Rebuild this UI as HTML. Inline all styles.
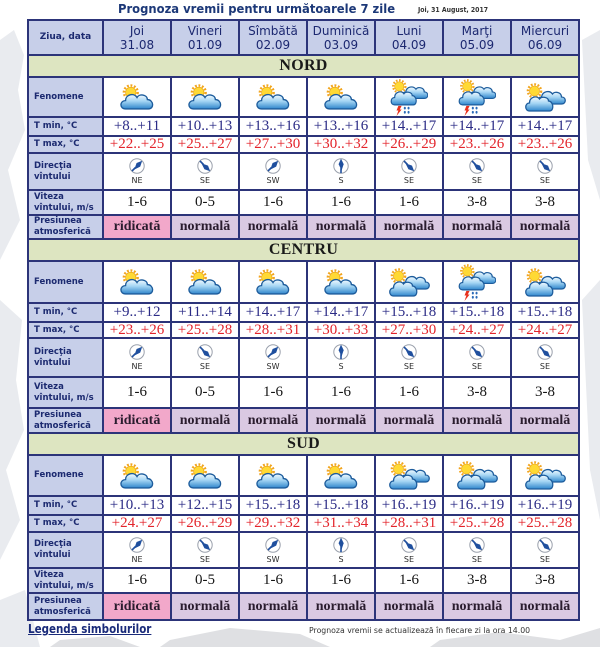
<!DOCTYPE html>
<html><head><meta charset="utf-8">
<style>
html,body{margin:0;padding:0}
body{width:600px;height:647px;position:relative;background:#fff;overflow:hidden;font-family:"DejaVu Sans","Liberation Sans",sans-serif}
.bg{position:absolute;left:0;top:0}
.title{position:absolute;left:118px;top:1px;font-weight:bold;font-size:12.5px;color:#1c3878;white-space:nowrap;transform:scaleX(0.925);transform-origin:0 0;letter-spacing:0}
.date{position:absolute;left:418px;top:6px;font-weight:bold;font-size:7px;color:#333;white-space:nowrap;transform:scaleX(0.88);transform-origin:0 0}
.tbl{position:absolute;left:27px;top:19px;width:553px;height:602px;background:#2c3479}
.r{position:absolute;left:29px;width:549px;display:flex;gap:2px}
.r>div{flex:none;width:66px;height:100%;background:#fff;display:flex;align-items:center;justify-content:center;white-space:nowrap}
.r>div:first-child{width:73px;background:#c7cfe9;flex-direction:column;justify-content:center;align-items:flex-start;padding-left:5px;box-sizing:border-box;font-weight:bold;font-size:8.5px;color:#1c2a70;line-height:11px;font-family:"DejaVu Sans",sans-serif;white-space:nowrap}
.r>div:first-child span{display:block}
.hd>div{background:#c7cfe9;flex-direction:column;font-size:12px;color:#1c2870;line-height:14px}
.hd>div.zd{justify-content:center;align-items:center;padding-left:0;font-size:9px;font-weight:bold}
.band{position:absolute;left:29px;width:549px;background:#dde5c1;font:bold 16px "Liberation Serif",serif;color:#1a1a1a;display:flex;align-items:center;justify-content:center;letter-spacing:0.3px}
.tmin>div{font:15px "Liberation Serif",serif;color:#2b2b86}
.tmax>div{font:15px "Liberation Serif",serif;color:#e3242b}
.vit>div{font:15px "Liberation Serif",serif;color:#151515}
.pres>div{font:bold 14px "Liberation Serif",serif;background:#dac9e2;color:#2a1c2e}
.pres>div.hi{background:#f2a8ca}
.dir>div{flex-direction:column;font-size:8px;color:#2a2a2a;line-height:9px}
.dir>div svg{margin-bottom:2px}
.leg{position:absolute;left:28px;top:622px;font-weight:bold;font-size:12px;color:#1a2b7a;text-decoration:underline;white-space:nowrap;transform:scaleX(0.86);transform-origin:0 0}
.upd{position:absolute;left:309px;top:626px;font-size:8px;color:#333;white-space:nowrap;transform:scaleX(0.97);transform-origin:0 0}
</style></head><body>

<svg class="bg" width="600" height="647" viewBox="0 0 600 647">
<defs>
<linearGradient id="cg" x1="0" y1="0" x2="0" y2="1">
<stop offset="0" stop-color="#f4fbff"/><stop offset="0.45" stop-color="#a6d6f4"/><stop offset="1" stop-color="#2f86cc"/>
</linearGradient>
<symbol id="sun" viewBox="0 0 16 16">
<circle cx="8" cy="8" r="6.6" fill="none" stroke="#f2a51e" stroke-width="2.4" stroke-dasharray="1.8 1.6"/>
<circle cx="8" cy="8" r="5" fill="#ffd934" stroke="#e8a010" stroke-width="0.6"/>
</symbol>
<symbol id="sc" viewBox="3 0 34 27">
<use href="#sun" x="6" y="1" width="16" height="16"/>
<path d="M9 25 C3 25 3 17 9 17 C9 11 17 9 20 14 C22 10 30 11 30 16 C36 16 37 25 31 25 Z" fill="url(#cg)" stroke="#1d5c9c" stroke-width="1.3"/>
</symbol>
<symbol id="s2c" viewBox="3 0 41 29">
<use href="#sun" x="5" y="0" width="16" height="16"/>
<path d="M20 21 C15 21 15 14 20 14 C21 8 28 7 31 11 C33 8 40 9 40 14 C45 14 45 21 40 21 Z" fill="url(#cg)" stroke="#1d5c9c" stroke-width="1.3"/>
<path d="M8 28 C3 28 3 20 8 20 C8 14 15 12 18 16 C20 13 27 14 27 18 C32 18 33 28 28 28 Z" fill="url(#cg)" stroke="#1d5c9c" stroke-width="1.3"/>
</symbol>
<symbol id="rain" viewBox="3 0 41 40">
<use href="#s2c" x="3" y="0" width="41" height="29"/>
<polygon points="12,29 15.5,29 13.5,33 15.5,33 10,40 12,34 10,34" fill="#e8301c"/>
<ellipse cx="19" cy="31.5" rx="1.1" ry="1.5" fill="#2a6ab8"/>
<ellipse cx="23" cy="31.5" rx="1.1" ry="1.5" fill="#2a6ab8"/>
<ellipse cx="19" cy="36" rx="1.1" ry="1.5" fill="#2a6ab8"/>
<ellipse cx="23" cy="36" rx="1.1" ry="1.5" fill="#2a6ab8"/>
</symbol>
<symbol id="vane" viewBox="0 0 16 16">
<path d="M3 13 L6.5 9.5" stroke="#1f4f9e" stroke-width="1.6"/>
<polygon points="13.2,2.8 11.2,8.6 5.2,11.6 7.6,5" fill="#1f4f9e"/>
</symbol>
<symbol id="wNE" viewBox="0 0 16 16"><circle cx="8" cy="8" r="7.2" fill="#fff" stroke="#9aa0ac" stroke-width="1"/><use href="#vane" width="16" height="16"/></symbol>
<symbol id="wSE" viewBox="0 0 16 16"><circle cx="8" cy="8" r="7.2" fill="#fff" stroke="#9aa0ac" stroke-width="1"/><g transform="rotate(90 8 8)"><use href="#vane" width="16" height="16"/></g></symbol>
<symbol id="wS" viewBox="0 0 16 16"><circle cx="8" cy="8" r="7.2" fill="#fff" stroke="#9aa0ac" stroke-width="1"/><g transform="rotate(-45 8 8)"><use href="#vane" width="16" height="16"/></g></symbol>
</defs>
<g fill="#e9ebef">
<polygon points="0,40 14,30 24,55 18,90 25,130 8,170 20,220 0,260"/>
<polygon points="0,300 22,320 16,380 24,430 6,470 20,520 0,560"/>
<polygon points="0,600 25,590 40,647 0,647"/>
<polygon points="582,40 600,30 600,200 588,160"/>
<polygon points="582,300 600,280 600,520 590,470"/>
</g>
<g fill="#dfe0e3">
<polygon points="170,640 230,628 300,634 330,647 160,647"/>
<polygon points="440,640 500,632 560,640 600,628 600,647 430,647"/>
<polygon points="60,640 110,636 140,647 50,647"/>
</g>
</svg>

<div class="title">Prognoza vremii pentru următoarele 7 zile</div>
<div class="date">Joi, 31 August, 2017</div>

<div class="tbl"></div>

<!-- header -->
<div class="r hd" style="top:21px;height:33px">
<div class="zd">Ziua, data</div>
<div>Joi<span>31.08</span></div>
<div>Vineri<span>01.09</span></div>
<div>Sîmbătă<span>02.09</span></div>
<div>Duminică<span>03.09</span></div>
<div>Luni<span>04.09</span></div>
<div>Marţi<span>05.09</span></div>
<div>Miercuri<span>06.09</span></div>
</div>

<!-- NORD -->
<div class="band" style="top:56px;height:20px">NORD</div>
<div class="r fen" style="top:78px;height:38px">
<div><span>Fenomene</span></div>
<div><svg width="36" height="28"><use href="#sc" width="36" height="28"/></svg></div>
<div><svg width="36" height="28"><use href="#sc" width="36" height="28"/></svg></div>
<div><svg width="36" height="28"><use href="#sc" width="36" height="28"/></svg></div>
<div><svg width="36" height="28"><use href="#sc" width="36" height="28"/></svg></div>
<div><svg width="40" height="37"><use href="#rain" width="40" height="37"/></svg></div>
<div><svg width="40" height="37"><use href="#rain" width="40" height="37"/></svg></div>
<div><svg width="42" height="29"><use href="#s2c" width="42" height="29"/></svg></div>
</div>
<div class="r tmin" style="top:118px;height:17px">
<div><span>T min, °C</span></div><div>+8..+11</div><div>+10..+13</div><div>+13..+16</div><div>+13..+16</div><div>+14..+17</div><div>+14..+17</div><div>+14..+17</div>
</div>
<div class="r tmax" style="top:137px;height:15px">
<div><span>T max, °C</span></div><div>+22..+25</div><div>+25..+27</div><div>+27..+30</div><div>+30..+32</div><div>+26..+29</div><div>+23..+26</div><div>+23..+26</div>
</div>
<div class="r dir" style="top:154px;height:35px">
<div><span>Direcţia</span><span>vîntului</span></div>
<div><svg width="16" height="16"><use href="#wNE" width="16" height="16"/></svg>NE</div>
<div><svg width="16" height="16"><use href="#wSE" width="16" height="16"/></svg>SE</div>
<div><svg width="16" height="16"><use href="#wNE" width="16" height="16"/></svg>SW</div>
<div><svg width="16" height="16"><use href="#wS" width="16" height="16"/></svg>S</div>
<div><svg width="16" height="16"><use href="#wSE" width="16" height="16"/></svg>SE</div>
<div><svg width="16" height="16"><use href="#wSE" width="16" height="16"/></svg>SE</div>
<div><svg width="16" height="16"><use href="#wSE" width="16" height="16"/></svg>SE</div>
</div>
<div class="r vit" style="top:191px;height:23px">
<div><span>Viteza</span><span>vîntului, m/s</span></div><div>1-6</div><div>0-5</div><div>1-6</div><div>1-6</div><div>1-6</div><div>3-8</div><div>3-8</div>
</div>
<div class="r pres" style="top:216px;height:22px">
<div><span>Presiunea</span><span>atmosferică</span></div><div class="hi">ridicată</div><div>normală</div><div>normală</div><div>normală</div><div>normală</div><div>normală</div><div>normală</div>
</div>

<!-- CENTRU -->
<div class="band" style="top:240px;height:20px">CENTRU</div>
<div class="r fen" style="top:262px;height:40px">
<div><span>Fenomene</span></div>
<div><svg width="36" height="28"><use href="#sc" width="36" height="28"/></svg></div>
<div><svg width="36" height="28"><use href="#sc" width="36" height="28"/></svg></div>
<div><svg width="36" height="28"><use href="#sc" width="36" height="28"/></svg></div>
<div><svg width="36" height="28"><use href="#sc" width="36" height="28"/></svg></div>
<div><svg width="42" height="29"><use href="#s2c" width="42" height="29"/></svg></div>
<div><svg width="40" height="37"><use href="#rain" width="40" height="37"/></svg></div>
<div><svg width="42" height="29"><use href="#s2c" width="42" height="29"/></svg></div>
</div>
<div class="r tmin" style="top:304px;height:17px">
<div><span>T min, °C</span></div><div>+9..+12</div><div>+11..+14</div><div>+14..+17</div><div>+14..+17</div><div>+15..+18</div><div>+15..+18</div><div>+15..+18</div>
</div>
<div class="r tmax" style="top:323px;height:14px">
<div><span>T max, °C</span></div><div>+23..+26</div><div>+25..+28</div><div>+28..+31</div><div>+30..+33</div><div>+27..+30</div><div>+24..+27</div><div>+24..+27</div>
</div>
<div class="r dir" style="top:339px;height:37px">
<div><span>Direcţia</span><span>vîntului</span></div>
<div><svg width="16" height="16"><use href="#wNE" width="16" height="16"/></svg>NE</div>
<div><svg width="16" height="16"><use href="#wSE" width="16" height="16"/></svg>SE</div>
<div><svg width="16" height="16"><use href="#wNE" width="16" height="16"/></svg>SW</div>
<div><svg width="16" height="16"><use href="#wS" width="16" height="16"/></svg>S</div>
<div><svg width="16" height="16"><use href="#wSE" width="16" height="16"/></svg>SE</div>
<div><svg width="16" height="16"><use href="#wSE" width="16" height="16"/></svg>SE</div>
<div><svg width="16" height="16"><use href="#wSE" width="16" height="16"/></svg>SE</div>
</div>
<div class="r vit" style="top:378px;height:29px">
<div><span>Viteza</span><span>vîntului, m/s</span></div><div>1-6</div><div>0-5</div><div>1-6</div><div>1-6</div><div>1-6</div><div>3-8</div><div>3-8</div>
</div>
<div class="r pres" style="top:409px;height:23px">
<div><span>Presiunea</span><span>atmosferică</span></div><div class="hi">ridicată</div><div>normală</div><div>normală</div><div>normală</div><div>normală</div><div>normală</div><div>normală</div>
</div>

<!-- SUD -->
<div class="band" style="top:434px;height:20px">SUD</div>
<div class="r fen" style="top:456px;height:39px">
<div><span>Fenomene</span></div>
<div><svg width="36" height="28"><use href="#sc" width="36" height="28"/></svg></div>
<div><svg width="36" height="28"><use href="#sc" width="36" height="28"/></svg></div>
<div><svg width="36" height="28"><use href="#sc" width="36" height="28"/></svg></div>
<div><svg width="36" height="28"><use href="#sc" width="36" height="28"/></svg></div>
<div><svg width="42" height="29"><use href="#s2c" width="42" height="29"/></svg></div>
<div><svg width="42" height="29"><use href="#s2c" width="42" height="29"/></svg></div>
<div><svg width="42" height="29"><use href="#s2c" width="42" height="29"/></svg></div>
</div>
<div class="r tmin" style="top:497px;height:17px">
<div><span>T min, °C</span></div><div>+10..+13</div><div>+12..+15</div><div>+15..+18</div><div>+15..+18</div><div>+16..+19</div><div>+16..+19</div><div>+16..+19</div>
</div>
<div class="r tmax" style="top:516px;height:15px">
<div><span>T max, °C</span></div><div>+24.+27</div><div>+26..+29</div><div>+29..+32</div><div>+31..+34</div><div>+28..+31</div><div>+25..+28</div><div>+25..+28</div>
</div>
<div class="r dir" style="top:533px;height:34px">
<div><span>Direcţia</span><span>vîntului</span></div>
<div><svg width="16" height="16"><use href="#wNE" width="16" height="16"/></svg>NE</div>
<div><svg width="16" height="16"><use href="#wSE" width="16" height="16"/></svg>SE</div>
<div><svg width="16" height="16"><use href="#wNE" width="16" height="16"/></svg>SW</div>
<div><svg width="16" height="16"><use href="#wS" width="16" height="16"/></svg>S</div>
<div><svg width="16" height="16"><use href="#wSE" width="16" height="16"/></svg>SE</div>
<div><svg width="16" height="16"><use href="#wSE" width="16" height="16"/></svg>SE</div>
<div><svg width="16" height="16"><use href="#wSE" width="16" height="16"/></svg>SE</div>
</div>
<div class="r vit" style="top:569px;height:23px">
<div><span>Viteza</span><span>vîntului, m/s</span></div><div>1-6</div><div>0-5</div><div>1-6</div><div>1-6</div><div>1-6</div><div>3-8</div><div>3-8</div>
</div>
<div class="r pres" style="top:594px;height:25px">
<div><span>Presiunea</span><span>atmosferică</span></div><div class="hi">ridicată</div><div>normală</div><div>normală</div><div>normală</div><div>normală</div><div>normală</div><div>normală</div>
</div>

<div class="leg">Legenda simbolurilor</div>
<div class="upd">Prognoza vremii se actualizează în fiecare zi la ora 14.00</div>

</body></html>
